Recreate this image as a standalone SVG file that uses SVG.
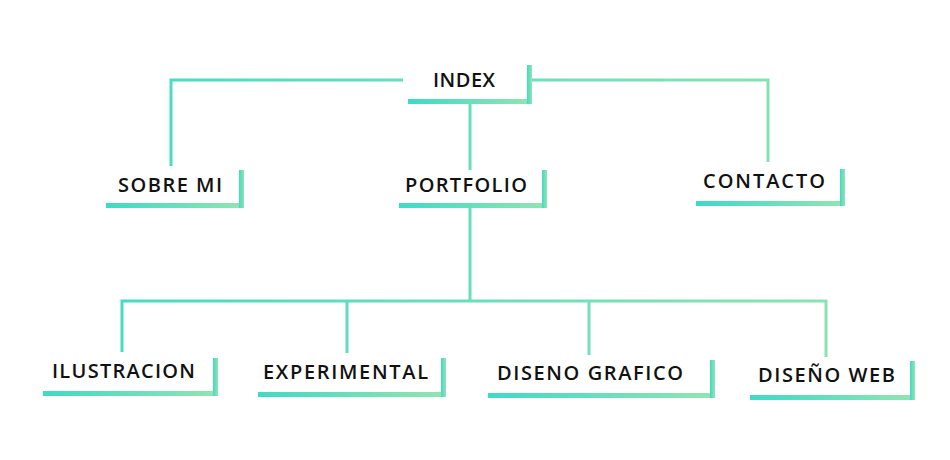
<svg xmlns="http://www.w3.org/2000/svg" width="950" height="460" viewBox="0 0 950 460">
  <defs>
    <linearGradient id="barGrad" x1="0" y1="0" x2="1" y2="0">
      <stop offset="0" stop-color="#3fdac6"/>
      <stop offset="1" stop-color="#93e4b0"/>
    </linearGradient>
    <linearGradient id="lineGrad" gradientUnits="userSpaceOnUse" x1="100" y1="0" x2="860" y2="0">
      <stop offset="0" stop-color="#45dbc3"/>
      <stop offset="1" stop-color="#8fe2b2"/>
    </linearGradient>
  </defs>
  <style>
    .lbl { font-family: "Open Sans", "Liberation Sans", sans-serif; font-weight: 600; font-size: 20px; fill: #111; }
    .bar { fill: url(#barGrad); }
    .conn { fill: none; stroke: url(#lineGrad); stroke-width: 3; }
  </style>

  <g id="connectors">
    <polyline class="conn" points="403,80 171,80 171,166"/>
    <polyline class="conn" points="532,80 768,80 768,162"/>
    <line class="conn" x1="470" y1="104" x2="470" y2="170"/>
    <line class="conn" x1="470" y1="208" x2="470" y2="301"/>
    <polyline class="conn" points="122,352 122,301 826,301 826,357"/>
    <line class="conn" x1="347" y1="301" x2="347" y2="353"/>
    <line class="conn" x1="589" y1="301" x2="589" y2="355"/>
  </g>

  <g id="index">
    <rect class="bar" x="408" y="99" width="124" height="5"/>
    <rect class="bar" x="527" y="65" width="5" height="39"/>
    <text class="lbl" x="433" y="87" textLength="62">INDEX</text>
  </g>

  <g id="sobre-mi">
    <rect class="bar" x="106" y="203" width="138" height="5"/>
    <rect class="bar" x="239" y="170" width="5" height="38"/>
    <text class="lbl" x="118" y="192" textLength="104">SOBRE MI</text>
  </g>

  <g id="portfolio">
    <rect class="bar" x="399" y="203" width="148" height="5"/>
    <rect class="bar" x="542" y="170" width="5" height="38"/>
    <text class="lbl" x="405" y="192" textLength="122">PORTFOLIO</text>
  </g>

  <g id="contacto">
    <rect class="bar" x="696" y="201" width="149" height="5"/>
    <rect class="bar" x="840" y="169" width="5" height="37"/>
    <text class="lbl" x="703" y="188" textLength="122">CONTACTO</text>
  </g>

  <g id="ilustracion">
    <rect class="bar" x="43" y="391" width="175" height="5"/>
    <rect class="bar" x="213" y="358" width="5" height="38"/>
    <text class="lbl" x="52" y="378" textLength="143">ILUSTRACION</text>
  </g>

  <g id="experimental">
    <rect class="bar" x="258" y="392" width="188" height="5"/>
    <rect class="bar" x="441" y="358" width="5" height="39"/>
    <text class="lbl" x="263" y="379" textLength="165">EXPERIMENTAL</text>
  </g>

  <g id="diseno-grafico">
    <rect class="bar" x="488" y="393" width="227" height="5"/>
    <rect class="bar" x="710" y="360" width="5" height="38"/>
    <text class="lbl" x="497" y="380" textLength="186">DISENO GRAFICO</text>
  </g>

  <g id="diseno-web">
    <rect class="bar" x="750" y="395" width="165" height="5"/>
    <rect class="bar" x="910" y="361" width="5" height="39"/>
    <text class="lbl" x="758" y="382" textLength="137">DISEÑO WEB</text>
  </g>
</svg>
